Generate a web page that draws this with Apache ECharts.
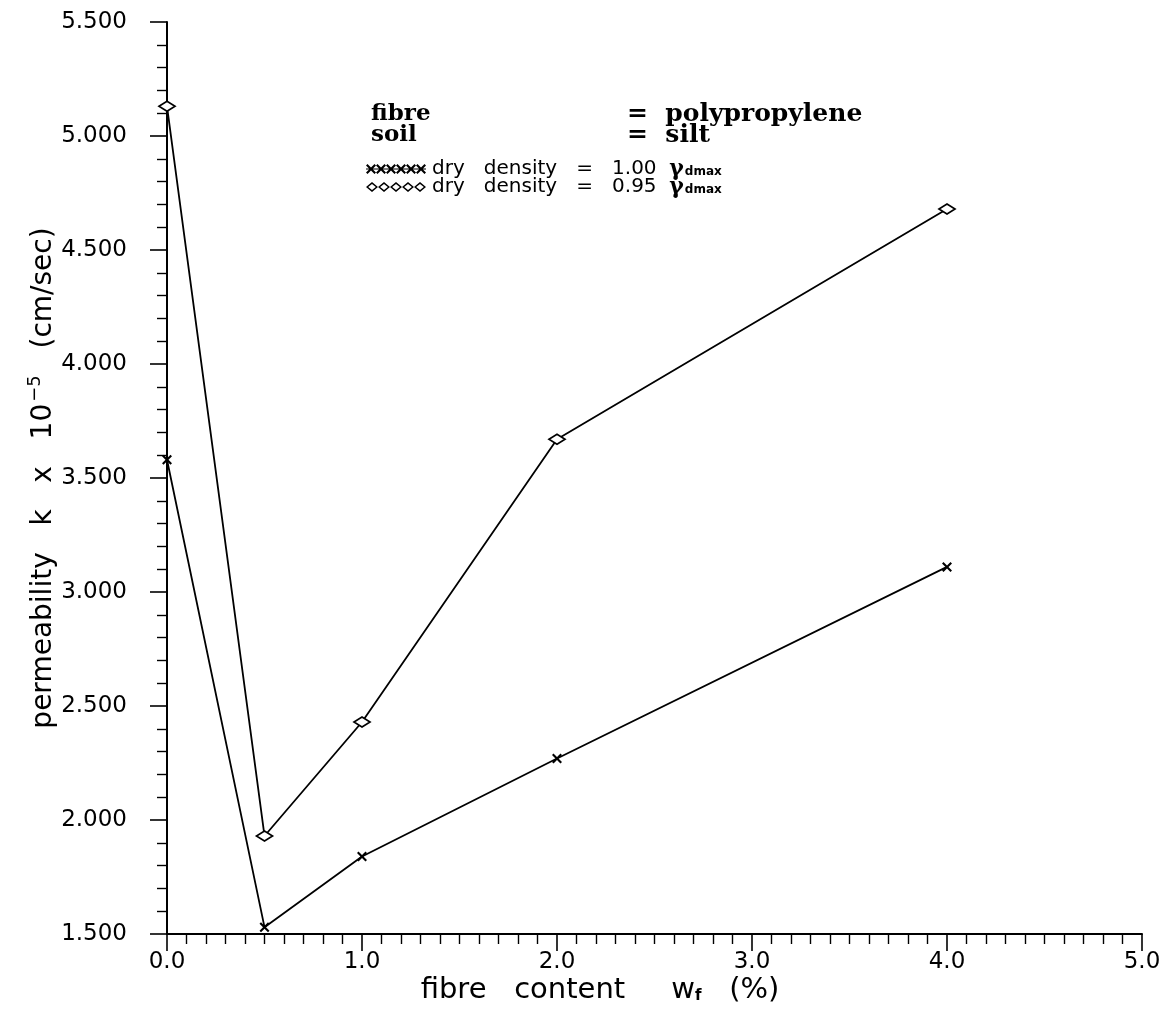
<!DOCTYPE html>
<html>
<head>
<meta charset="utf-8">
<script src="https://cdn.jsdelivr.net/npm/echarts@6/dist/echarts.min.js"></script>
<style>
html,body{margin:0;padding:0;background:#fff;}
#chart{width:1170px;height:1021px;}
</style>
</head>
<body>
<div id="chart"></div>
<script>
// ---- data ----
const fibreContent = [0, 0.5, 1, 2, 4];
const kDensity100 = [3.58, 1.53, 1.84, 2.27, 3.11];
const kDensity095 = [5.13, 1.93, 2.43, 3.67, 4.68];
const seriesNames = ['dry density = 1.00 γdmax', 'dry density = 0.95 γdmax'];
const yTickMin = 1.5, yTickMax = 5.5, yTickStep = 0.5;
const xTickMin = 0, xTickMax = 5, xTickStep = 1;

// ---- symbol paths ----
function xShape(o) {
  return 'M' + o + ',1.5L' + (o + 1.5) + ',0L' + (o + 5) + ',3.5L' + (o + 8.5) + ',0L' + (o + 10) + ',1.5L' +
    (o + 6.5) + ',5L' + (o + 10) + ',8.5L' + (o + 8.5) + ',10L' + (o + 5) + ',6.5L' + (o + 1.5) + ',10L' +
    o + ',8.5L' + (o + 3.5) + ',5Z';
}
function diamondRing(o) {
  return 'M' + o + ',5L' + (o + 6) + ',0L' + (o + 12) + ',5L' + (o + 6) + ',10Z' +
    'M' + (o + 2.2) + ',5L' + (o + 6) + ',8.1L' + (o + 9.8) + ',5L' + (o + 6) + ',1.9Z';
}
const xMarker = 'path://' + xShape(0);
let xLegendPath = 'path://M0,4.4H60V5.6H0Z';
for (let i = 0; i < 6; i++) xLegendPath += xShape(i * 10);
let dLegendPath = 'path://';
for (let i = 0; i < 5; i++) dLegendPath += diamondRing(i * 12);

const chart = echarts.init(document.getElementById('chart'), null, {renderer: 'canvas'});
const sans = 'DejaVu Sans';
const option = {
  backgroundColor: '#fff',
  animation: false,
  grid: {left: 167, right: 28, top: 22, bottom: 87, containLabel: false, outerBoundsMode: 'none'},
  xAxis: {
    type: 'value', min: xTickMin, max: xTickMax, interval: xTickStep,
    axisLine: {lineStyle: {color: '#000', width: 2}},
    axisTick: {show: true, length: 17, lineStyle: {color: '#000', width: 1.6}},
    minorTick: {show: true, splitNumber: 10, length: 10, lineStyle: {color: '#000', width: 1.4}},
    splitLine: {show: false},
    axisLabel: {color: '#000', fontFamily: sans, fontSize: 23, margin: 17,
      formatter: v => v.toFixed(1)}
  },
  yAxis: {
    type: 'value', min: yTickMin, max: yTickMax, interval: yTickStep,
    axisLine: {show: true, lineStyle: {color: '#000', width: 2}},
    axisTick: {show: true, length: 17, lineStyle: {color: '#000', width: 1.6}},
    minorTick: {show: true, splitNumber: 5, length: 10, lineStyle: {color: '#000', width: 1.4}},
    splitLine: {show: false},
    axisLabel: {color: '#000', fontFamily: sans, fontSize: 23, margin: 40,
      formatter: v => v.toFixed(3)}
  },
  legend: {
    orient: 'vertical', left: 366, top: 158, itemGap: -4, padding: 0,
    itemWidth: 62, itemHeight: 10,
    itemStyle: {color: '#000', borderWidth: 0},
    data: [
      {name: seriesNames[0], icon: xLegendPath},
      {name: seriesNames[1], icon: dLegendPath}
    ],
    formatter: function (name) {
      const v = name.indexOf('1.00') >= 0 ? '1.00' : '0.95';
      return '{t|dry   density   =   ' + v + '  }{g|γ}{s|dmax}';
    },
    textStyle: {
      color: '#000', fontSize: 16, lineHeight: 16,
      rich: {
        t: {fontFamily: sans, fontSize: 20, color: '#000', lineHeight: 16},
        g: {fontFamily: 'DejaVu Serif', fontSize: 22, fontWeight: 'bold', color: '#000', lineHeight: 16},
        s: {fontFamily: sans, fontSize: 12, fontWeight: 'bold', color: '#000', lineHeight: 11, padding: [5, 0, 0, 1]}
      }
    }
  },
  graphic: [
    {type: 'text', x: 44, y: 478, rotation: Math.PI / 2,
      style: {text: 'permeability   k   x   10{sup|−5}   (cm/sec)', fill: '#000',
        font: '28px "DejaVu Sans"', align: 'center', verticalAlign: 'middle',
        rich: {sup: {fontFamily: sans, fontSize: 18, fill: '#000', padding: [0, 0, 17, 2]}}}},
    {type: 'text', x: 600, y: 990,
      style: {text: 'fibre   content     w{sub|f}   (%)', fill: '#000',
        font: '29px "DejaVu Sans"', align: 'center', verticalAlign: 'middle',
        rich: {sub: {fontFamily: sans, fontSize: 15, fontWeight: 'bold', fill: '#000', padding: [13, 0, 0, 0]}}}},
    {type: 'text', x: 371, y: 114,
      style: {text: 'fibre', fill: '#000', font: 'bold 23px "DejaVu Serif"', align: 'left', verticalAlign: 'middle'}},
    {type: 'text', x: 371, y: 135,
      style: {text: 'soil', fill: '#000', font: 'bold 23px "DejaVu Serif"', align: 'left', verticalAlign: 'middle'}},
    {type: 'text', x: 627, y: 114,
      style: {text: '=  polypropylene', fill: '#000', font: 'bold 25px "DejaVu Serif"', align: 'left', verticalAlign: 'middle'}},
    {type: 'text', x: 627, y: 135,
      style: {text: '=  silt', fill: '#000', font: 'bold 25px "DejaVu Serif"', align: 'left', verticalAlign: 'middle'}}
  ],
  series: [
    {
      name: seriesNames[0], type: 'line',
      data: fibreContent.map((x, i) => [x, kDensity100[i]]),
      symbol: xMarker, symbolSize: 10,
      itemStyle: {color: '#000'},
      lineStyle: {color: '#000', width: 1.8},
      z: 3
    },
    {
      name: seriesNames[1], type: 'line',
      data: fibreContent.map((x, i) => [x, kDensity095[i]]),
      symbol: 'diamond', symbolSize: [16, 10],
      itemStyle: {color: '#fff', borderColor: '#000', borderWidth: 1.8},
      lineStyle: {color: '#000', width: 1.8},
      z: 3
    }
  ]
};
chart.setOption(option);
</script>
</body>
</html>
